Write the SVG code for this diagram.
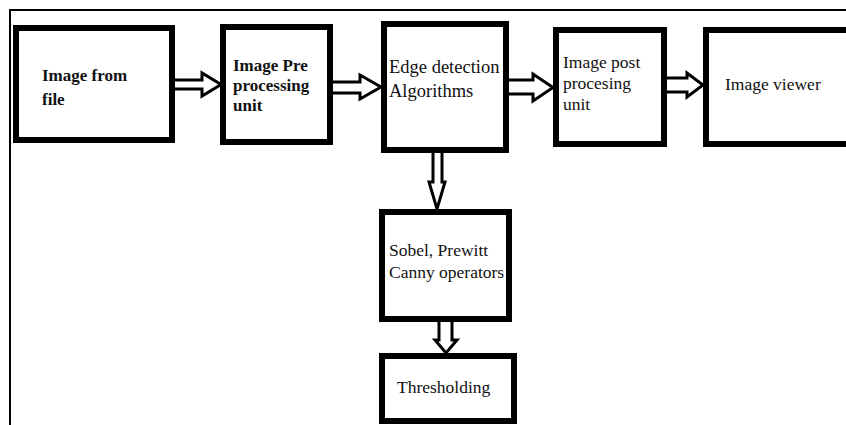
<svg xmlns="http://www.w3.org/2000/svg" width="846" height="425" viewBox="0 0 846 425">
  <style>
    .box { fill: #fff; stroke: #000; stroke-width: 6; }
    .arrow { fill: #fff; stroke: #000; stroke-width: 3; stroke-linejoin: miter; }
    .frame { stroke: #000; stroke-width: 2; fill: none; }
    text { font-family: "Liberation Serif", "Times New Roman", serif; font-size: 17.5px; fill: #111; }
    .b { font-weight: bold; font-size: 17px; }
    .lg { font-size: 18.5px; }
  </style>
  <rect width="846" height="425" fill="#fff"/>
  <!-- page frame -->
  <path class="frame" d="M10 425 V10 H846"/>

  <g id="connectors">
    <path class="arrow" d="M170 80 H202 V73 L221 84.5 L202 96 V89 H170 Z"/>
    <path class="arrow" d="M328 82 H360 V75 L381 87 L360 99 V93 H328 Z"/>
    <path class="arrow" d="M504 80 H533 V74 L553 87.5 L533 101 V94 H504 Z"/>
    <path class="arrow" d="M662 78 H687 V73 L703 85 L687 97 V92 H662 Z"/>
    <path class="arrow" d="M433 148 V182 H429 L437 209 L445 182 H442 V148 Z"/>
    <path class="arrow" d="M439 317 V340 H435 L446 353 L457 340 H452 V317 Z"/>
  </g>

  <g id="image-from-file">
    <rect class="box" x="16" y="28" width="156" height="112"/>
    <text class="b" x="42" y="81">Image from</text>
    <text class="b" x="42" y="105">file</text>
  </g>

  <g id="preprocessing">
    <rect class="box" x="223" y="27" width="107" height="115"/>
    <text class="b" x="233" y="71">Image Pre</text>
    <text class="b" x="233" y="91">processing</text>
    <text class="b" x="233" y="111">unit</text>
  </g>

  <g id="edge-detection">
    <rect class="box" x="384" y="24" width="122" height="126"/>
    <text class="lg" x="389" y="73">Edge detection</text>
    <text class="lg" x="389" y="97">Algorithms</text>
  </g>

  <g id="postprocessing">
    <rect class="box" x="556" y="30" width="108" height="114"/>
    <text x="563" y="68">Image post</text>
    <text x="563" y="89">procesing</text>
    <text x="563" y="110">unit</text>
  </g>

  <g id="image-viewer">
    <rect class="box" x="706" y="30" width="150" height="114"/>
    <text x="725" y="90">Image viewer</text>
  </g>

  <g id="operators">
    <rect class="box" x="382" y="212" width="127" height="107"/>
    <text x="389" y="256">Sobel, Prewitt</text>
    <text x="389" y="278">Canny operators</text>
  </g>

  <g id="thresholding">
    <rect class="box" x="382" y="356" width="132" height="65"/>
    <text x="397" y="393">Thresholding</text>
  </g>
</svg>
